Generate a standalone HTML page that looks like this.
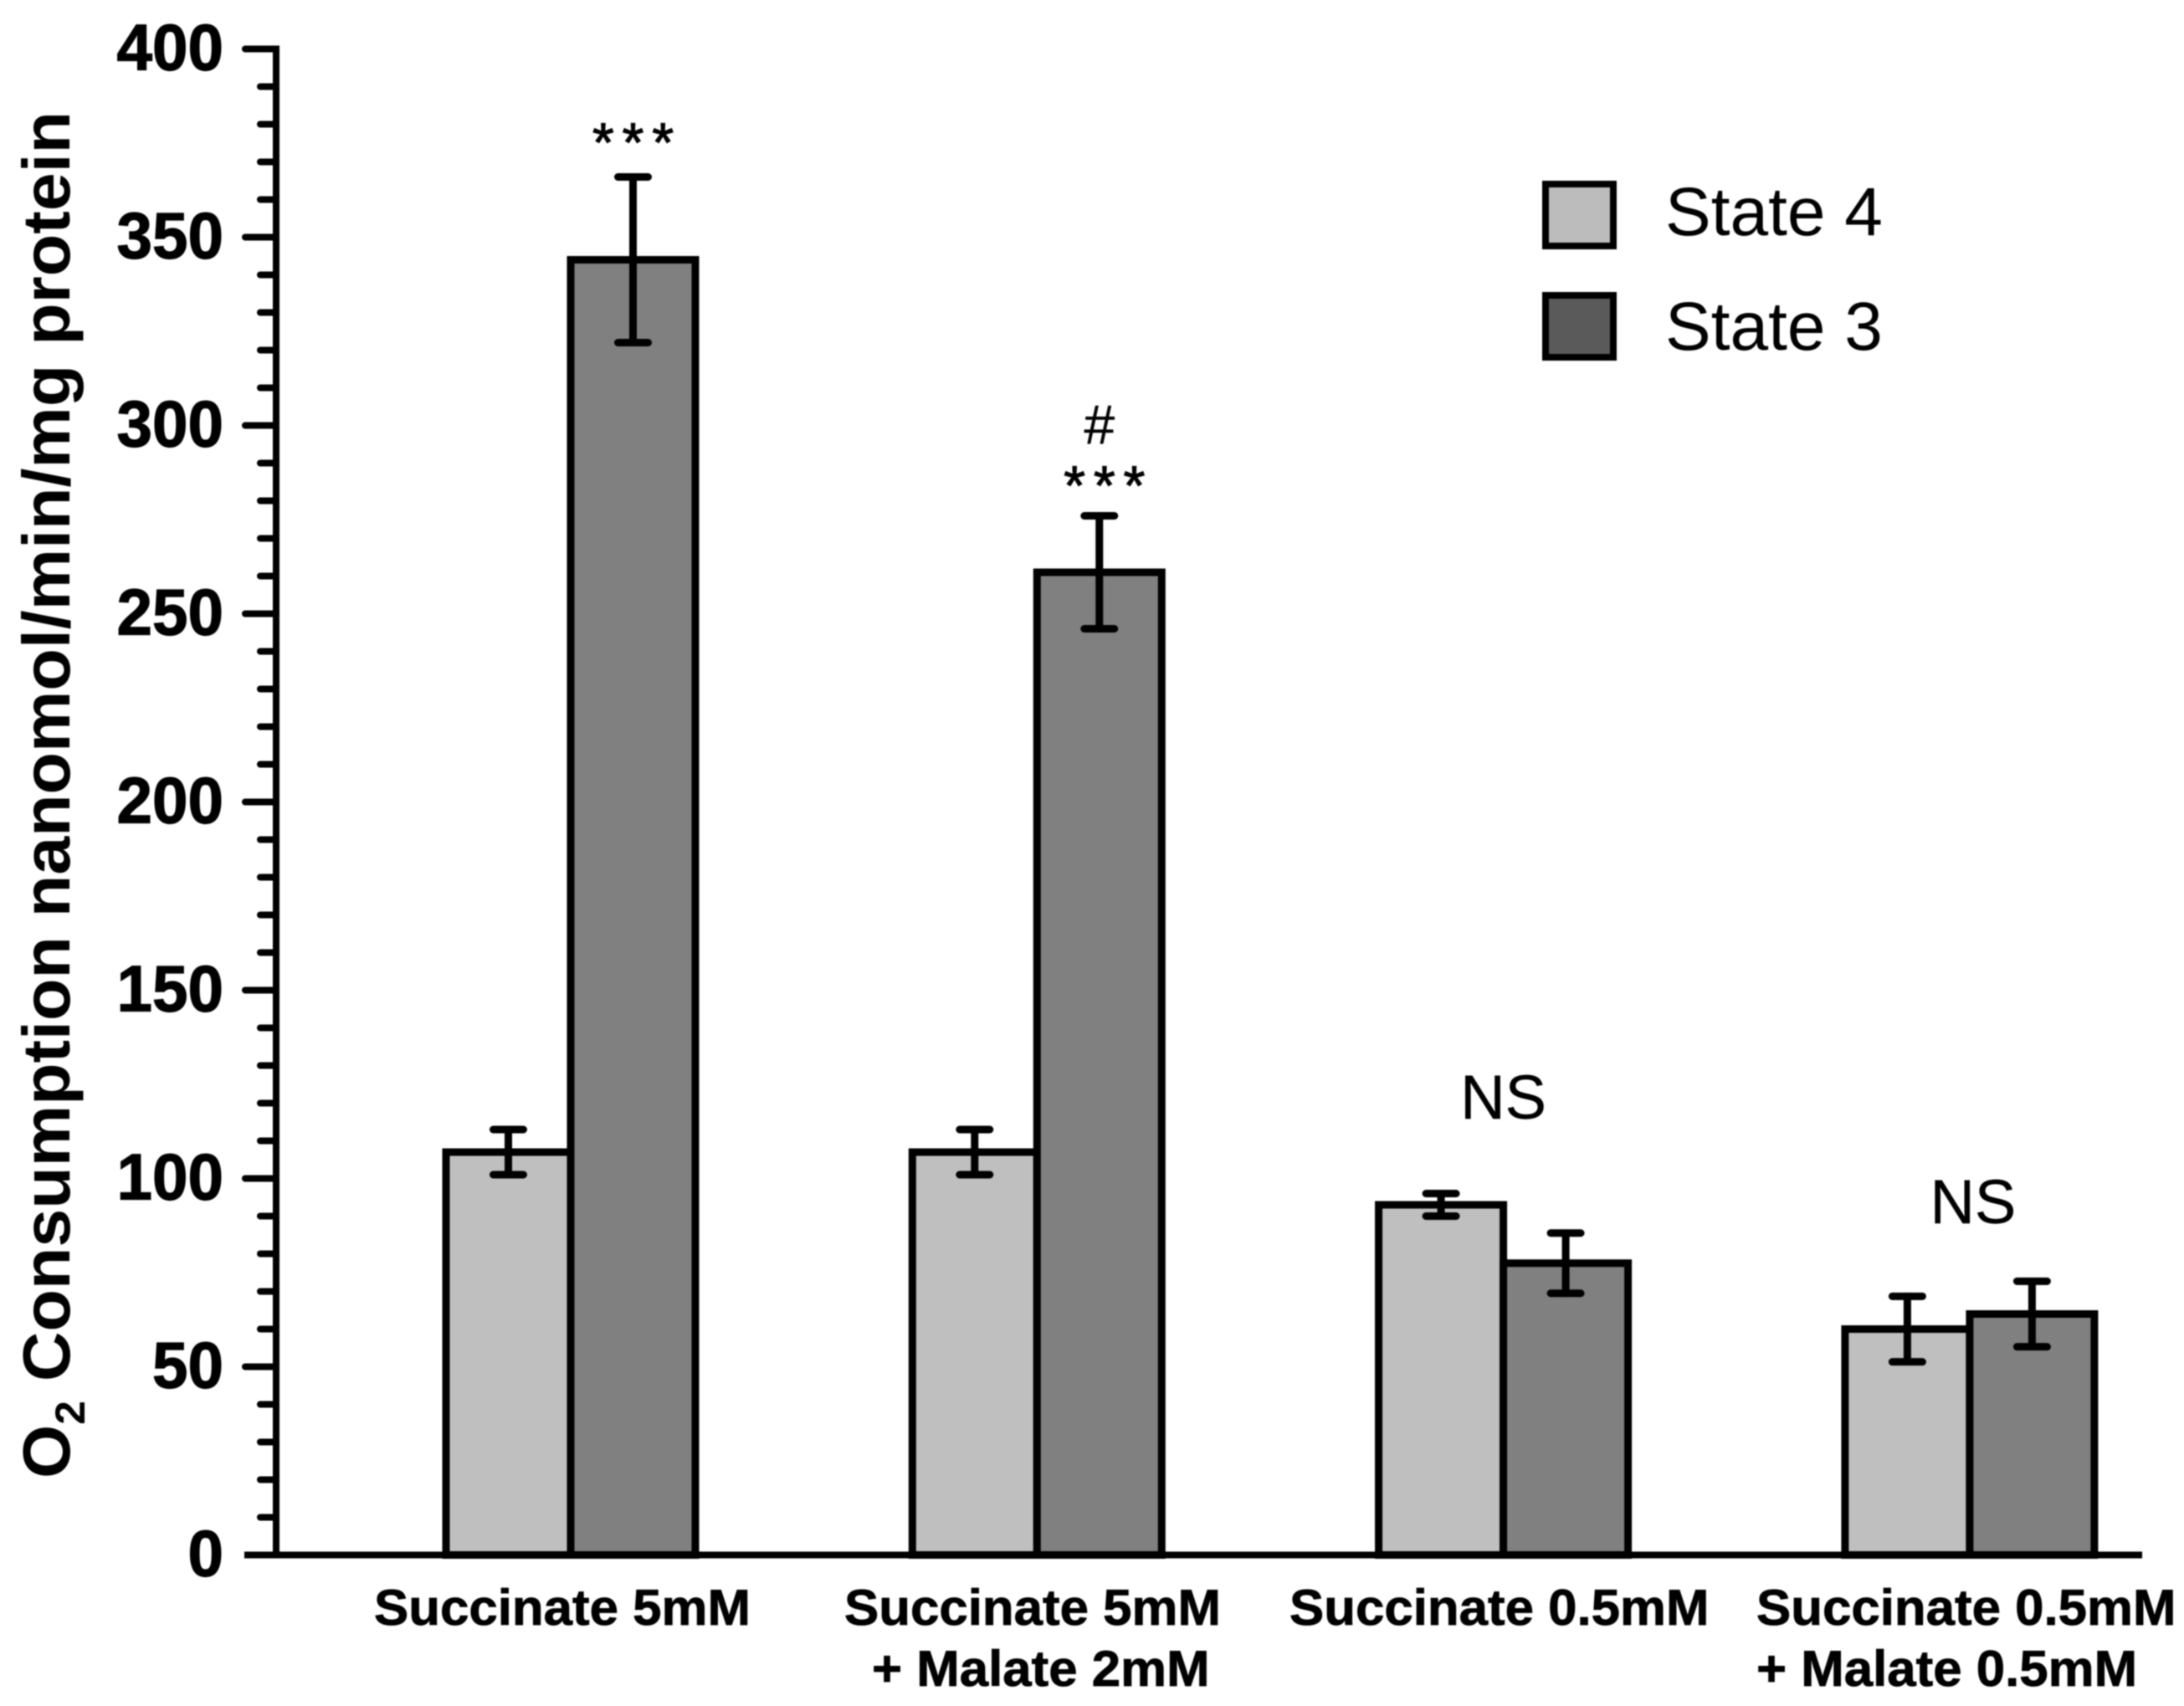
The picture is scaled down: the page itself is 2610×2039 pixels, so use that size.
<!DOCTYPE html>
<html>
<head>
<meta charset="utf-8">
<title>O2 consumption chart</title>
<style>
html,body{margin:0;padding:0;background:#fff;}
svg{display:block;filter:blur(0.7px);}
text{font-family:"Liberation Sans",sans-serif;fill:#000;}
</style>
</head>
<body>
<svg id="chart" width="2610" height="2039" viewBox="0 0 2610 2039" xmlns="http://www.w3.org/2000/svg">
  <text transform="translate(83,1767) rotate(-90)" font-size="80" font-weight="bold" textLength="1634" lengthAdjust="spacingAndGlyphs">O<tspan font-size="50" dy="18">2</tspan><tspan dy="-18"> Consumption nanomol/min/mg protein</tspan></text>
  <g>
    <rect x="1847" y="220" width="81" height="74" fill="#bcbcbc" stroke="#000" stroke-width="8"/>
    <text x="1990" y="281" font-size="82">State 4</text>
    <rect x="1847" y="353" width="81" height="74" fill="#5a5a5a" stroke="#000" stroke-width="8"/>
    <text x="1990" y="418" font-size="82">State 3</text>
  </g>
</svg>
<script>
const categories = [["Succinate 5mM"], ["Succinate 5mM", "+ Malate 2mM"], ["Succinate 0.5mM"], ["Succinate 0.5mM", "+ Malate 0.5mM"]];
const state4Values = [107, 107, 93, 60];
const state4Errors = [6, 6, 3, 8.7];
const state3Values = [344, 261, 77.5, 64];
const state3Errors = [22, 15, 8, 8.7];
const yTickLabels = [0, 50, 100, 150, 200, 250, 300, 350, 400];
const yMinorStep = 10;
const annotations = [["***"], ["#", "***"], ["NS"], ["NS"]];

const svg = document.getElementById('chart');
const NS = 'http://www.w3.org/2000/svg';
const Y0 = 1858.5, YTOP = 58.5, YMAX = 400;
const GROUP0 = 682, GROUPSTEP = 557.3, BARW = 149;
function y(v){ return Y0 - (v / YMAX) * (Y0 - YTOP); }
function groupX(i){ return GROUP0 + i * GROUPSTEP; }
function make(tag, attrs, parent){
  const e = document.createElementNS(NS, tag);
  for (const k in attrs) e.setAttribute(k, attrs[k]);
  (parent || svg).appendChild(e);
  return e;
}

// bars
function drawBar(i, isState3, value, fill){
  const gx = groupX(i);
  const x0 = isState3 ? gx : gx - BARW;
  const r = make('rect', {x: x0, y: y(value), width: BARW, height: Y0 - y(value), fill: fill, stroke: '#000', 'stroke-width': 9});
  
  
}
function drawError(i, isState3, value, err){
  const cx = groupX(i) + (isState3 ? BARW / 2 : -BARW / 2);
  const g = make('g', {stroke: '#000', 'stroke-width': 9, 'stroke-linecap': 'round'});
  
  
  make('line', {x1: cx, x2: cx, y1: y(value + err), y2: y(value - err)}, g);
  make('line', {x1: cx - 18, x2: cx + 18, y1: y(value + err), y2: y(value + err)}, g);
  make('line', {x1: cx - 18, x2: cx + 18, y1: y(value - err), y2: y(value - err)}, g);
}
categories.forEach((c, i) => {
  drawBar(i, false, state4Values[i], '#bfbfbf');
  drawBar(i, true, state3Values[i], '#808080');
});
categories.forEach((c, i) => {
  drawError(i, false, state4Values[i], state4Errors[i]);
  drawError(i, true, state3Values[i], state3Errors[i]);
});

// axes
const yAxis = make('line', {x1: 330, x2: 330, y1: YTOP - 4, y2: Y0 + 4, stroke: '#000', 'stroke-width': 8});


const xAxis = make('line', {x1: 292, x2: 2560, y1: Y0, y2: Y0, stroke: '#000', 'stroke-width': 8});



for (let v = 0; v <= YMAX; v += yMinorStep) {
  if (v === 0) continue;
  const major = yTickLabels.indexOf(v) >= 0;
  const t = make('line', {x1: major ? 293 : 311, x2: 330, y1: y(v), y2: y(v), stroke: '#000', 'stroke-width': 8, 'stroke-linecap': 'round'});
  
  
}
yTickLabels.forEach(v => {
  const t = make('text', {x: 267, y: y(v) + 25, 'text-anchor': 'end', 'font-size': 78, 'font-weight': 'bold', stroke: '#000', 'stroke-width': 1.2});
  
  
  t.textContent = v;
  t.setAttribute('textLength', t.getComputedTextLength() * 0.98);
  t.setAttribute('lengthAdjust', 'spacingAndGlyphs');
});

// category labels
const LABEL_LEFTS = [[447], [1009, 1042], [1541], [2099, 2099]];
categories.forEach((lines, i) => {
  lines.forEach((line, j) => {
    const t = make('text', {x: LABEL_LEFTS[i][j], y: 1942 + j * 73, 'text-anchor': 'start', 'font-size': 60, 'font-weight': 'bold', stroke: '#000', 'stroke-width': 0.8});
    
    
    t.textContent = line;
    const w = t.getComputedTextLength();
    t.setAttribute('textLength', w * 1.03);
    t.setAttribute('lengthAdjust', 'spacingAndGlyphs');
  });
});

// significance annotations
function annotate(i, top, lines, dx, nsDx){
  const isStar = lines[lines.length - 1] === '***';
  const cx = (isStar ? groupX(i) + BARW / 2 : groupX(i));
  lines.forEach((line, j) => {
    const star = line === '***';
    const t = make('text', {x: cx + (star ? dx : nsDx), 'text-anchor': 'middle', 'font-size': line === 'NS' ? 74 : 66, 'stroke': '#000', 'stroke-width': star ? 1.2 : 0.4});
    
    
    if (star) { t.setAttribute('letter-spacing', '10'); }
    t.setAttribute('y', top(j, line));
    t.textContent = line;
  });
}
annotate(0, () => 193, annotations[0], 5, 0);
annotate(1, (j, l) => l === '#' ? 530 : 603, annotations[1], 11, 0);
annotate(2, () => 1337, annotations[2], 0, 0);
annotate(3, () => 1462, annotations[3], 0, 4);
</script>
</body>
</html>
